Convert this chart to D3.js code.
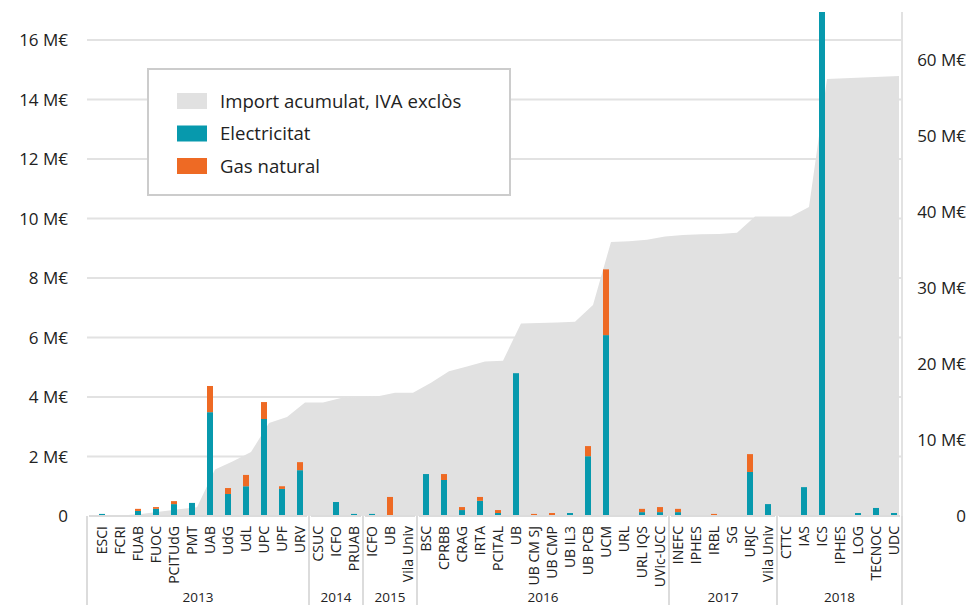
<!DOCTYPE html>
<html>
<head>
<meta charset="utf-8">
<script src="https://cdn.jsdelivr.net/npm/d3@7"></script>
<style>
  html, body { margin: 0; padding: 0; background: #fff; }
  svg { display: block; font-family: "Open Sans", "Noto Sans", sans-serif; }
</style>
</head>
<body>
<svg id="chart" width="969" height="605"></svg>
<script>
// ---- Data (M€) ----
const categories = ["ESCI","FCRI","FUAB","FUOC","PCITUdG","PMT","UAB","UdG","UdL","UPC","UPF","URV",
  "CSUC","ICFO","PRUAB",
  "ICFO","UB","Vila Univ",
  "BSC","CPRBB","CRAG","IRTA","PCITAL","UB","UB CM SJ","UB CMP","UB IL3","UB PCB","UCM","URL","URL IQS","UVic-UCC",
  "INEFC","IPHES","IRBL","SG","URJC","Vila Univ",
  "CTTC","IAS","ICS","IPHES","LOG","TECNOC","UDC"];
const yearGroups = ["2013","2014","2015","2016","2017","2018"];
const yearCounts = [12, 3, 3, 14, 6, 7];

const electricity = [0.07,0,0.17,0.24,0.40,0.44,3.49,0.74,1.00,3.26,0.91,1.54,
  0,0.47,0.07,
  0.07,0,0,
  1.41,1.21,0.20,0.51,0.10,4.80,0,0,0.10,2.01,6.08,0,0.13,0.13,
  0.13,0,0,0,1.48,0.40,
  0,0.97,16.94,0,0.10,0.27,0.10];
const gas = [0,0,0.07,0.06,0.10,0,0.88,0.20,0.38,0.57,0.09,0.27,
  0,0,0,
  0,0.64,0,
  0,0.20,0.10,0.13,0.10,0,0.07,0.10,0,0.34,2.21,0,0.11,0.17,
  0.11,0,0.07,0,0.60,0,
  0,0,0,0,0,0,0];
const cumulative = [0.05,0.1,0.3,0.6,0.9,1.15,6.1,7.2,8.4,12.2,13.0,14.9,
  14.9,15.5,15.6,
  15.7,16.2,16.2,
  17.5,19.0,19.65,20.3,20.4,25.3,25.35,25.4,25.5,27.7,36.0,36.1,36.3,36.7,
  36.9,37.0,37.05,37.2,39.35,39.35,
  39.35,40.6,57.4,57.5,57.6,57.7,57.8];

const leftTicks = [0,2,4,6,8,10,12,14,16];
const rightTicks = [0,10,20,30,40,50,60];
const fmt = v => v === 0 ? "0" : v + " M€";

const legendItems = [
  {label: "Import acumulat, IVA exclòs", color: "#e1e1e1"},
  {label: "Electricitat", color: "#0799ad"},
  {label: "Gas natural", color: "#ee6a24"}
];

// ---- Layout ----
const plotLeft = 87, plotRight = 902, plotTop = 12, plotBottom = 516;
const colElec = "#0799ad", colGas = "#ee6a24", colArea = "#e1e1e1", colGrid = "#e2e2e2", colText = "#222";

const svg = d3.select("#chart");

const x = d3.scaleBand().domain(d3.range(categories.length))
  .range([93, 903]).paddingInner(2/3).paddingOuter(1/3);
const yL = d3.scaleLinear().domain([0, 16.94]).range([plotBottom, plotTop]);
const yR = d3.scaleLinear().domain([0, 66.2]).range([plotBottom, plotTop]);

svg.append("defs").append("clipPath").attr("id", "clip")
  .append("rect").attr("x", plotLeft).attr("y", plotTop)
  .attr("width", plotRight - plotLeft).attr("height", plotBottom - plotTop);

// gridlines
svg.append("g").selectAll("line").data(leftTicks.filter(d => d > 0)).join("line")
  .attr("x1", plotLeft).attr("x2", plotRight)
  .attr("y1", d => yL(d)).attr("y2", d => yL(d))
  .attr("stroke", colGrid).attr("stroke-width", 2);

// cumulative area
const area = d3.area()
  .x((d, i) => x(i) + x.bandwidth() / 2 + 5)
  .y0(plotBottom)
  .y1(d => yR(d));
svg.append("path").datum(cumulative)
  .attr("d", area).attr("fill", colArea)
  .attr("clip-path", "url(#clip)");

// bars
const gBars = svg.append("g").attr("clip-path", "url(#clip)");
gBars.selectAll("rect.e").data(electricity).join("rect").attr("class", "e")
  .attr("x", (d, i) => x(i)).attr("width", x.bandwidth())
  .attr("y", d => yL(d)).attr("height", d => yL(0) - yL(d))
  .attr("fill", colElec);
gBars.selectAll("rect.g").data(gas).join("rect").attr("class", "g")
  .attr("x", (d, i) => x(i)).attr("width", x.bandwidth())
  .attr("y", (d, i) => yL(electricity[i] + d))
  .attr("height", (d, i) => yL(electricity[i]) - yL(electricity[i] + d))
  .attr("fill", colGas);

// right axis line
svg.append("line").attr("x1", plotRight).attr("x2", plotRight)
  .attr("y1", plotTop).attr("y2", plotBottom)
  .attr("stroke", colGrid).attr("stroke-width", 2);

// left axis labels
svg.append("g").selectAll("text").data(leftTicks).join("text")
  .attr("x", 68).attr("y", d => yL(d)).attr("dy", "0.38em")
  .attr("text-anchor", "end").attr("font-size", 17).attr("fill", colText)
  .text(fmt);

// right axis labels
svg.append("g").selectAll("text").data(rightTicks).join("text")
  .attr("x", 966).attr("y", d => yR(d)).attr("dy", "0.38em")
  .attr("text-anchor", "end").attr("font-size", 17).attr("fill", colText)
  .text(fmt);

// grouped x axis
let start = 0;
const groups = yearGroups.map((yr, k) => {
  const s = start, e = start + yearCounts[k] - 1;
  start += yearCounts[k];
  const x0 = k === 0 ? plotLeft : x(s) - (x.step() - x.bandwidth()) / 2;
  const x1 = k === yearGroups.length - 1 ? plotRight : x(e) + x.bandwidth() + (x.step() - x.bandwidth()) / 2;
  return {yr, x0, x1};
});
const gAxis = svg.append("g");
gAxis.selectAll("line.base").data(groups).join("line").attr("class", "base")
  .attr("x1", d => d.x0 + 2).attr("x2", d => d.x1 - 2)
  .attr("y1", plotBottom).attr("y2", plotBottom)
  .attr("stroke", "#dcdcdc").attr("stroke-width", 2);
const seps = [groups[0].x0].concat(groups.map(g => g.x1));
gAxis.selectAll("line.sep").data(seps).join("line").attr("class", "sep")
  .attr("x1", d => d).attr("x2", d => d)
  .attr("y1", plotBottom).attr("y2", 605)
  .attr("stroke", "#dcdcdc").attr("stroke-width", 2);
gAxis.selectAll("text.cat").data(categories).join("text").attr("class", "cat")
  .attr("transform", (d, i) => `translate(${x(i) + x.bandwidth() / 2},526) rotate(-90)`)
  .attr("dy", "0.36em").attr("text-anchor", "end")
  .attr("font-size", 14).attr("fill", colText).text(d => d);
gAxis.selectAll("text.yr").data(groups).join("text").attr("class", "yr")
  .attr("x", d => (d.x0 + d.x1) / 2).attr("y", 602)
  .attr("text-anchor", "middle").attr("font-size", 13.5).attr("fill", colText)
  .text(d => d.yr);

// legend
const lg = svg.append("g");
lg.append("rect").attr("x", 148).attr("y", 69).attr("width", 362).attr("height", 126)
  .attr("fill", "#fff").attr("stroke", "#cccccc").attr("stroke-width", 2);
const li = lg.selectAll("g.item").data(legendItems).join("g").attr("class", "item")
  .attr("transform", (d, i) => `translate(177,${101 + i * 32.5})`);
li.append("rect").attr("x", 0).attr("y", -8).attr("width", 30).attr("height", 16)
  .attr("fill", d => d.color);
li.append("text").attr("x", 43).attr("y", 0).attr("dy", "0.36em")
  .attr("font-size", 18.6).attr("fill", colText).text(d => d.label);
</script>
</body>
</html>
